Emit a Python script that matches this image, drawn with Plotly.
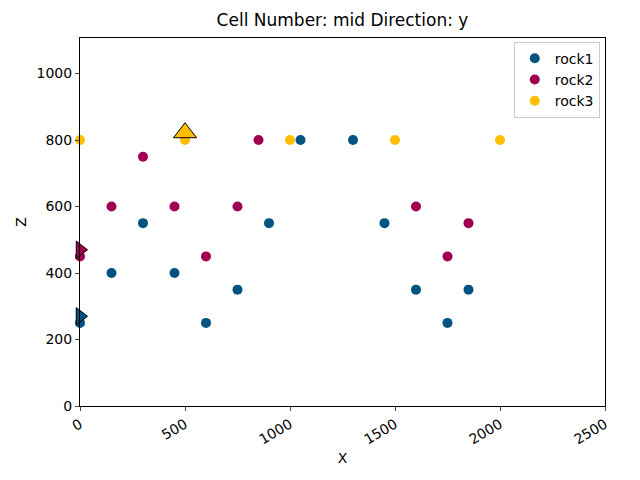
import plotly.graph_objects as go

rock1_x = [0, 150, 300, 450, 600, 750, 900, 1050, 1300, 1450, 1600, 1750, 1850]
rock1_z = [250, 400, 550, 400, 250, 350, 550, 800, 800, 550, 350, 250, 350]
rock2_x = [0, 150, 300, 450, 600, 750, 850, 1600, 1750, 1850]
rock2_z = [450, 600, 750, 600, 450, 600, 800, 600, 450, 550]
rock3_x = [0, 500, 1000, 1500, 2000]
rock3_z = [800, 800, 800, 800, 800]

orient_x = [0, 0, 500]
orient_z = [270, 470, 822]
orient_sym = ["triangle-right", "triangle-right", "triangle-up"]
orient_col = ["#015482", "#9f0052", "#ffbe00"]
orient_size = [15, 15, 20]

names = ["rock1", "rock2", "rock3"]
colors = ["#015482", "#9f0052", "#ffbe00"]

x_ticks = [0, 500, 1000, 1500, 2000, 2500]
z_ticks = [0, 200, 400, 600, 800, 1000]

fig = go.Figure()
for nm, xs, zs, c in zip(names, [rock1_x, rock2_x, rock3_x], [rock1_z, rock2_z, rock3_z], colors):
    fig.add_trace(go.Scatter(x=xs, y=zs, mode="markers", name=nm,
                             marker=dict(color=c, size=10, opacity=1), cliponaxis=False))

fig.add_trace(go.Scatter(x=orient_x, y=orient_z, mode="markers", showlegend=False,
                         marker=dict(symbol=orient_sym, color=orient_col, size=orient_size,
                                     opacity=1, line=dict(color="black", width=1)),
                         cliponaxis=False))

fig.update_layout(
    width=640, height=480,
    margin=dict(l=80, r=35, t=38, b=74),
    plot_bgcolor="white", paper_bgcolor="white",
    font=dict(family="DejaVu Sans", size=14, color="black"),
    title=dict(text="Cell Number: mid Direction: y", x=0.5, xref="paper", xanchor="center",
               y=1 - 14 / 480, yanchor="top", font=dict(size=17)),
    xaxis=dict(range=[0, 2500], tickvals=x_ticks, tickangle=-30, showgrid=False, zeroline=False,
               showline=True, linecolor="black", mirror=True, ticks="outside", ticklen=4,
               title=dict(text="X", standoff=6, font=dict(size=14))),
    yaxis=dict(range=[0, 1107], tickvals=z_ticks, showgrid=False, zeroline=False,
               showline=True, linecolor="black", mirror=True, ticks="outside", ticklen=4,
               title=dict(text="Z", standoff=6, font=dict(size=14))),
    legend=dict(x=0.99, y=0.99, xanchor="right", yanchor="top", bgcolor="white",
                bordercolor="#cccccc", borderwidth=1, font=dict(size=14)),
)

fig.write_html("out.html")
